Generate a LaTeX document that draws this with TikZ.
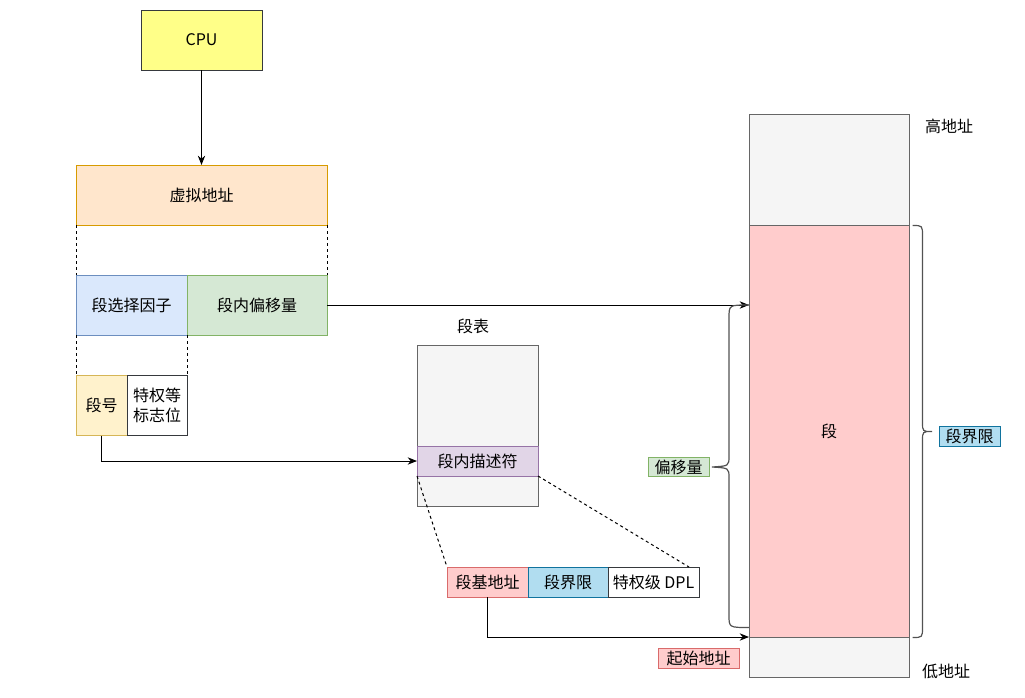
\documentclass[tikz,border=0pt]{standalone}
\usepackage{fontspec}
\setmainfont{Noto Sans CJK SC}
\usetikzlibrary{arrows.meta,positioning}
\definecolor{cpuc}{HTML}{FFFF88}\definecolor{cpud}{HTML}{36393D}
\definecolor{vac}{HTML}{FFE6CC}\definecolor{vad}{HTML}{D79B00}
\definecolor{selc}{HTML}{DAE8FC}\definecolor{seld}{HTML}{6C8EBF}
\definecolor{offc}{HTML}{D5E8D4}\definecolor{offd}{HTML}{82B366}
\definecolor{numc}{HTML}{FFF2CC}\definecolor{numd}{HTML}{D6B656}
\definecolor{grayc}{HTML}{F5F5F5}\definecolor{grayd}{HTML}{666666}
\definecolor{descc}{HTML}{E1D5E7}\definecolor{descd}{HTML}{9673A6}
\definecolor{basec}{HTML}{FFCCCC}\definecolor{based}{HTML}{D96B6B}
\definecolor{limc}{HTML}{B1DDF0}\definecolor{limd}{HTML}{10739E}
\tikzset{cell/.style={draw,line width=.75pt,minimum height=45pt,inner sep=0pt,outer sep=0pt,align=center},
 row/.style={cell,minimum height=22.5pt},
 tag/.style={draw,line width=.75pt,inner sep=0pt,minimum height=14.6pt,minimum width=45.75pt},
 arr/.style={-{Stealth[length=7pt,width=5.5pt]},line width=.75pt},
 dsh/.style={line width=.75pt,dash pattern=on 2.25pt off 2.25pt},
 brc/.style={line width=.9pt,draw=grayd!80!black},
 every node/.style={font=\fontsize{12pt}{15.5pt}\selectfont}}
\begin{document}
\begin{tikzpicture}[x=0.75pt,y=-0.75pt]
\useasboundingbox (0,0) rectangle (1025,697);
% 虚拟地址
\node[cell,fill=cpuc,draw=cpud,minimum width=90.75pt] (cpu) at (201.5,40) {CPU};
\node[cell,fill=vac,draw=vad,minimum width=188.25pt] (va) at (201.5,195) {虚拟地址};
\node[cell,fill=selc,draw=seld,minimum width=83.25pt] (sel) at (131.5,305) {段选择因子};
\node[cell,fill=offc,draw=offd,minimum width=105pt,right=0pt of sel] (off) {段内偏移量};
\node[cell,fill=numc,draw=numd,minimum width=38.25pt] (num) at (101.5,405.5) {段号};
\node[cell,fill=white,draw=cpud,minimum width=45pt,right=0pt of num] (flag) {特权等\\标志位};
% 段表
\node (tbltxt) at (473,326) {段表};
\node[cell,fill=grayc,draw=grayd,minimum width=90.75pt,minimum height=120.75pt] (tbl) at (477.5,425.5) {};
\node[row,fill=descc,draw=descd,minimum width=90.75pt] (desc) at (477.5,461) {段内描述符};
\node[row,fill=basec,draw=based,minimum width=60.75pt] (base) at (487.5,582) {段基地址};
\node[row,fill=limc,draw=limd,minimum width=60pt,right=0pt of base] (lim) {段界限};
\node[row,fill=white,draw=cpud,minimum width=68.25pt,right=0pt of lim] (dpl) {特权级 DPL};
% 内存
\node[cell,fill=grayc,draw=grayd,minimum width=120pt,minimum height=83.25pt] (hi) at (829,169.5) {};
\node[cell,fill=basec,draw=grayd,minimum width=120pt,minimum height=309pt,below=0pt of hi] (seg) {段};
\node[cell,fill=grayc,draw=grayd,minimum width=120pt,minimum height=30pt,below=0pt of seg] (lo) {};
\node (hitxt) at (949,126) {高地址};
\node (lotxt) at (946,671) {低地址};
\node[tag,fill=offc,draw=offd] (offtag) at (678.5,467) {偏移量};
\node[tag,fill=limc,draw=limd] (limtag) at (969.5,436.7) {段界限};
\node[tag,fill=basec,draw=based,minimum width=60.75pt] (starttag) at (698.5,658.5) {起始地址};
% 连线
\draw[arr] (cpu) -- (va);
\draw[arr] (off.east) -- (off.east -| seg.west);
\draw[arr] (num.south) |- (desc.west);
\draw[arr] (base.south) |- (seg.south west);
\foreach \a/\b in {va.south west/sel.north west,va.south east/off.north east,sel.south west/num.north west,sel.south east/flag.north east,desc.south west/base.north west}{\draw[dsh] (\a)--(\b);}
\draw[dsh] (desc.south east) -- ([xshift=-7.5pt]dpl.north east);
% 括号
\draw[brc] (749,305) .. controls (729,305) .. (729,318) -- (729,456) .. controls (729,466) .. (712,467) .. controls (729,468) .. (729,478) -- (729,615) .. controls (729,627.5) .. (749,627.5);
\draw[brc] (912.5,225.5) .. controls (922.5,225.5) .. (922.5,236) -- (922.5,422) .. controls (922.5,431.5) .. (932,431.5) .. controls (922.5,431.5) .. (922.5,441) -- (922.5,627) .. controls (922.5,637.5) .. (912.5,637.5);
\end{tikzpicture}
\end{document}
